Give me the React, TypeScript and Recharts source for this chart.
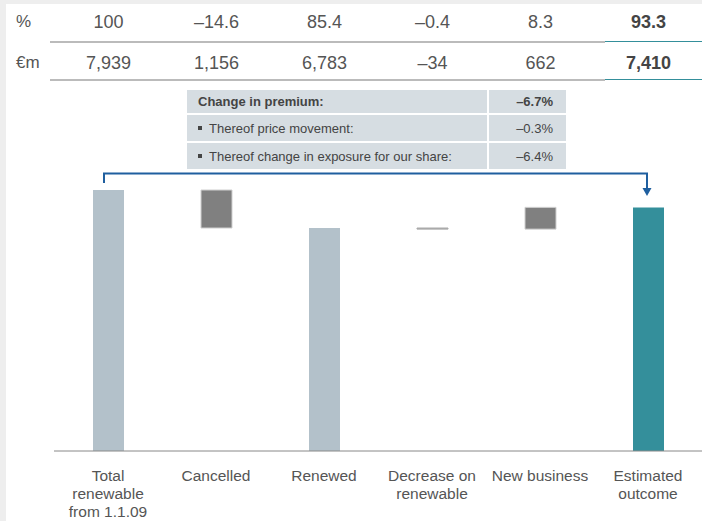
import { ComposedChart, Bar, XAxis, YAxis, Cell, LabelList } from 'recharts'

const categories = ['Total\nrenewable\nfrom 1.1.09', 'Cancelled', 'Renewed', 'Decrease on\nrenewable', 'New business', 'Estimated\noutcome']
const amounts = [7939, 1156, 6783, 34, 662, 7410]
const bases = [0, 6783, 0, 6749, 6749, 0]
const pctLabels = ['100', '–14.6', '85.4', '–0.4', '8.3', '93.3']
const eurLabels = ['7,939', '1,156', '6,783', '–34', '662', '7,410']
const barColors = ['#b3c1ca', '#808080', '#b3c1ca', '#aaaaaa', '#808080', '#348f9b']
const premiumRows = [
  { label: 'Change in premium:', value: '–6.7%', bold: true },
  { label: 'Thereof price movement:', value: '–0.3%', bold: false },
  { label: 'Thereof change in exposure for our share:', value: '–6.4%', bold: false },
]

const data = categories.map((name, i) => ({
  name,
  base: bases[i],
  amount: amounts[i],
  pct: pctLabels[i],
  eur: eurLabels[i],
}))

const FONT = '"Liberation Sans", Arial, sans-serif'
const last = categories.length - 1

function CategoryTick(props: any) {
  const { x, y, payload } = props
  const lines = String(payload.value).split('\n')
  return (
    <text x={x} y={y + 30} textAnchor="middle" fill="#555" fontSize={15.5} fontFamily={FONT}>
      {lines.map((l, i) => (
        <tspan key={i} x={x} dy={i === 0 ? 0 : 18}>{l}</tspan>
      ))}
    </text>
  )
}

function tableLabel(rowY: number, field: 'pct' | 'eur') {
  return (props: any) => {
    const { x, width, index } = props
    const d = data[index]
    return (
      <text
        x={x + width / 2}
        y={rowY}
        textAnchor="middle"
        fill={index === last ? '#444' : '#555'}
        fontWeight={index === last ? 'bold' : 'normal'}
        fontSize={18}
        fontFamily={FONT}
      >
        {d[field]}
      </text>
    )
  }
}

export default function App() {
  return (
    <div style={{ position: 'absolute', left: 0, top: 0, width: 702, height: 521, background: '#eeeeee', fontFamily: FONT }}>
      <div style={{ position: 'absolute', left: 6, top: 4, right: 0, bottom: 0, background: '#fff' }} />
      <div style={{ position: 'absolute', left: 16, top: 12, fontSize: 17, color: '#555' }}>%</div>
      <div style={{ position: 'absolute', left: 16, top: 53, fontSize: 17, color: '#555' }}>€m</div>
      <div style={{ position: 'absolute', left: 0, top: 0 }}>
        <ComposedChart width={702} height={521} data={data} margin={{ top: 190, right: 0, left: 54, bottom: 0 }} barSize={31}>
          <XAxis
            dataKey="name"
            interval={0}
            height={70}
            tickLine={false}
            tickSize={0}
            tickMargin={0}
            axisLine={{ stroke: '#888', strokeWidth: 1 }}
            tick={<CategoryTick />}
          />
          <YAxis hide domain={[0, 7939]} />
          <Bar dataKey="base" stackId="w" fill="transparent" isAnimationActive={false} />
          <Bar dataKey="amount" stackId="w" isAnimationActive={false}>
            {data.map((_, i) => (
              <Cell
                key={i}
                fill={barColors[i]}
                stroke={i === 1 || i === 4 ? '#cfcfcf' : i === 3 ? '#aaaaaa' : 'none'}
                strokeWidth={1}
              />
            ))}
            <LabelList dataKey="pct" content={tableLabel(28, 'pct')} />
            <LabelList dataKey="eur" content={tableLabel(69, 'eur')} />
          </Bar>
        </ComposedChart>
      </div>
      <svg width={702} height={521} style={{ position: 'absolute', left: 0, top: 0, pointerEvents: 'none' }}>
        <line x1={50} x2={605} y1={42} y2={42} stroke="#bbbbbb" strokeWidth={2} />
        <line x1={605} x2={702} y1={41.5} y2={41.5} stroke="#348f9b" strokeWidth={1} />
        <line x1={50} x2={605} y1={80} y2={80} stroke="#bbbbbb" strokeWidth={2} />
        <line x1={605} x2={702} y1={79.5} y2={79.5} stroke="#348f9b" strokeWidth={1} />
        <polyline points="104,183 104,173.5 647,173.5 647,189" fill="none" stroke="#1f5f9f" strokeWidth={2} />
        <polygon points="642.5,188 651.5,188 647,196" fill="#1f5f9f" />
      </svg>
      <div style={{ position: 'absolute', left: 187, top: 90, width: 379 }}>
        {premiumRows.map((r, i) => (
          <div key={i} style={{ display: 'flex', height: i === 0 ? 23 : 26, marginTop: i === 0 ? 0 : 2 }}>
            <div style={{ width: 300, background: '#d6dde2', display: 'flex', alignItems: 'center', paddingLeft: 11, fontSize: 13, color: '#444', fontWeight: r.bold ? 'bold' : 'normal', boxSizing: 'border-box' }}>
              {!r.bold && <span style={{ display: 'inline-block', width: 4, height: 4, background: '#444', marginRight: 7 }} />}
              {r.label}
            </div>
            <div style={{ width: 2 }} />
            <div style={{ flex: 1, background: '#d6dde2', display: 'flex', alignItems: 'center', justifyContent: 'flex-end', paddingRight: 13, fontSize: 13, color: '#444', fontWeight: r.bold ? 'bold' : 'normal' }}>
              {r.value}
            </div>
          </div>
        ))}
      </div>
    </div>
  )
}
